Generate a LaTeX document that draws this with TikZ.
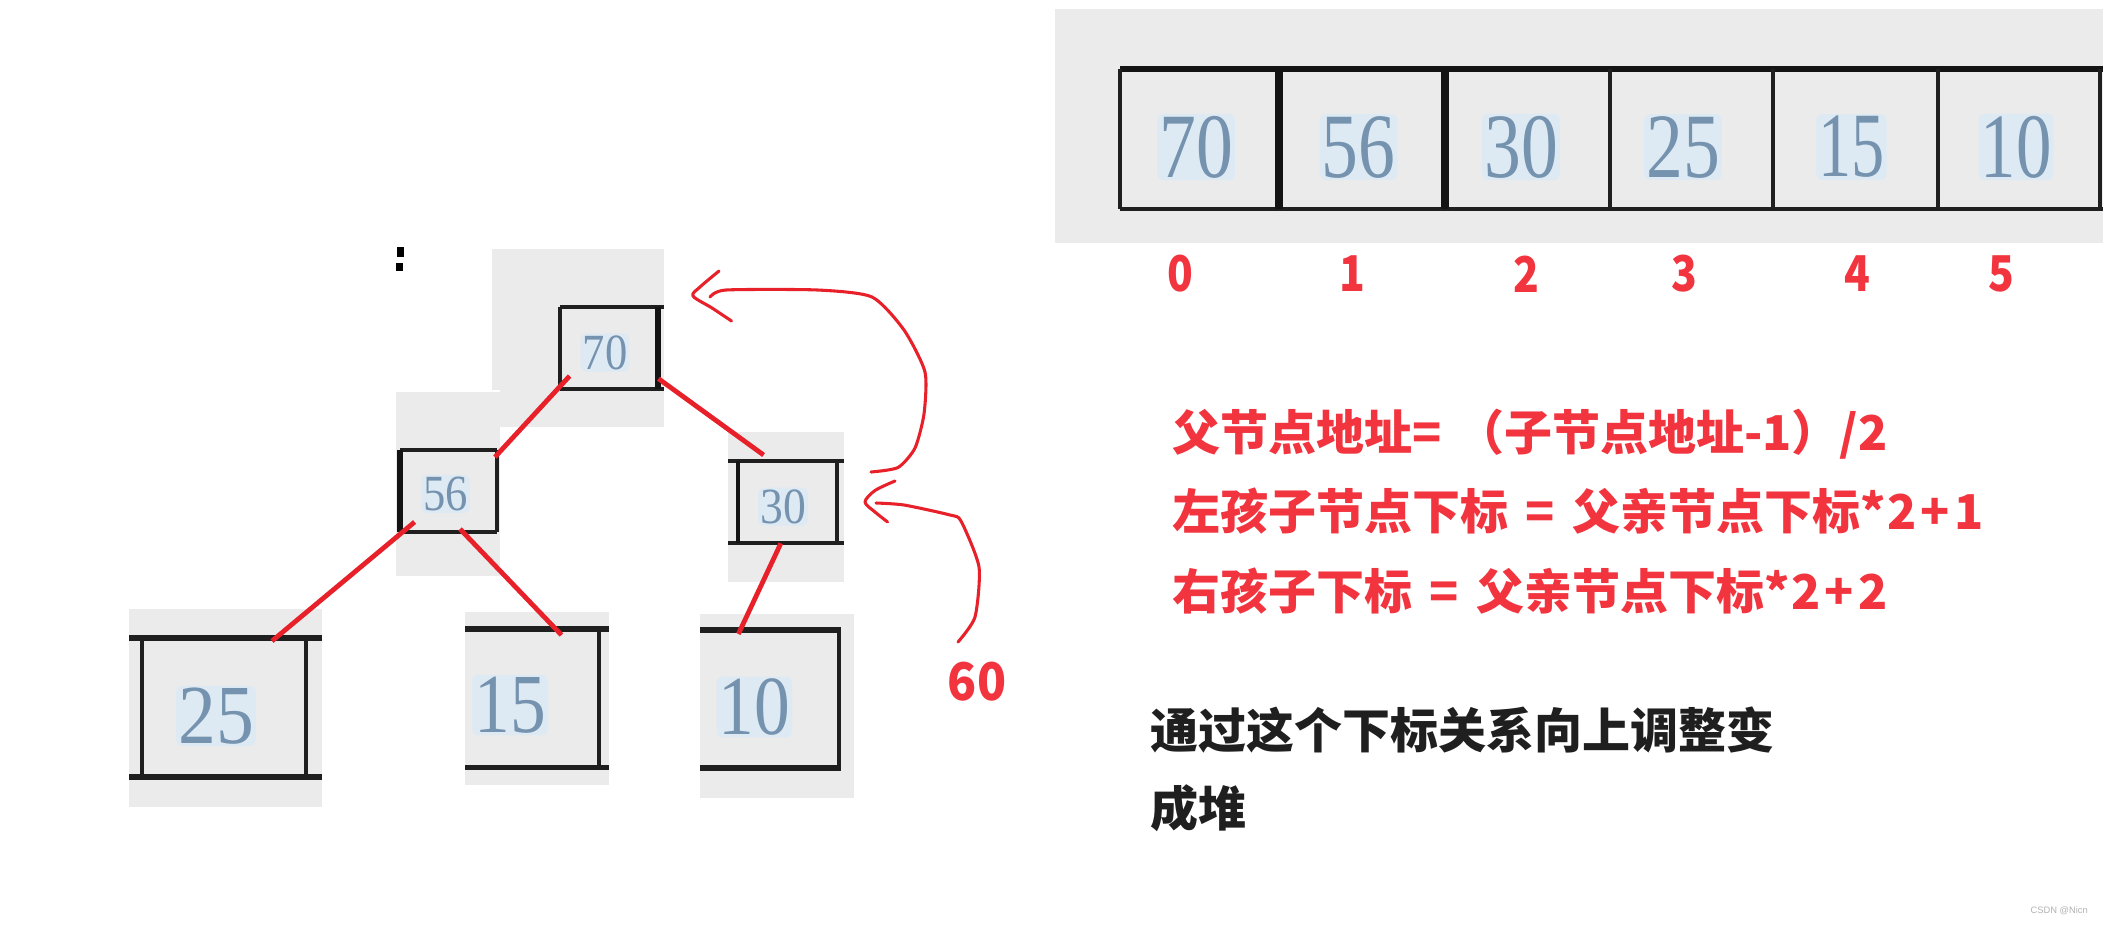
\documentclass[tikz,border=0pt]{standalone}
\usepackage{fontspec}
\newfontfamily\cjk{Noto Sans CJK SC}
\newfontfamily\numf{Liberation Serif}
\newfontfamily\wmf{Liberation Sans}
\definecolor{panel}{HTML}{EBEBEB}
\definecolor{halo}{HTML}{DDEAF4}
\definecolor{digitc}{HTML}{7592AE}
\definecolor{inkred}{HTML}{E8202A}
\definecolor{textred}{HTML}{F2343F}
\definecolor{textblack}{HTML}{1F1F1F}
\tikzset{
  panelfill/.style={fill=panel,draw=none},
  digitnode/.style={inner sep=1.5pt,fill=halo,text=digitc,rounded corners=4pt},
  dsmall/.style={digitnode,font=\numf\fontsize{38pt}{38pt}\selectfont},
  dmid/.style={digitnode,font=\numf\fontsize{63pt}{63pt}\selectfont},
  dbig/.style={digitnode,font=\numf\fontsize{69pt}{69pt}\selectfont},
  boxline/.style={draw=black!88,line width=3pt},
  thickline/.style={draw=black!92,line width=4.5pt},
  edgeline/.style={draw=inkred,line width=3.6pt},
  handline/.style={draw=inkred,line width=2.3pt,line cap=round,line join=round},
  idx/.style={inner sep=0pt,text=textred,font=\cjk\bfseries\fontsize{37pt}{37pt}\selectfont},
  formula/.style={inner sep=0pt,anchor=base west,text=textred,font=\cjk\bfseries\fontsize{36pt}{36pt}\selectfont},
  note/.style={inner sep=0pt,anchor=base west,text=textblack,font=\cjk\bfseries\fontsize{36pt}{36pt}\selectfont},
}
\begin{document}
\begin{tikzpicture}[x=0.75pt,y=-0.75pt]
\useasboundingbox (0,0) rectangle (2103,925);
\fill[white] (0,0) rectangle (2103,925);
% array panel
\fill[panelfill] (1055,9) rectangle (2103,243);
\draw[thickline] (1120,69) -- (2103,69);
\draw[boxline,line width=3.6pt] (1120,209) -- (2103,209);
\draw[boxline,line width=2.4pt] (1120,69) -- (1120,209);
\draw[thickline,line width=6pt] (1279,69) -- (1279,209);
\draw[thickline,line width=6pt] (1445,69) -- (1445,209);
\draw[boxline] (1609.5,69) -- (1609.5,209);
\draw[boxline,line width=2.6pt] (1773,69) -- (1773,209);
\draw[boxline,line width=2.6pt] (1938,69) -- (1938,209);
\draw[boxline,line width=2.4pt] (2100,69) -- (2100,209);
\node[dbig] (a0) at (1196,147) {\scalebox{.8}[1]{70}};
\node[dbig] (a1) at (1358.6,147) {\scalebox{.8}[1]{56}};
\node[dbig] (a2) at (1521,147) {\scalebox{.8}[1]{30}};
\node[dbig] (a3) at (1683,147) {\scalebox{.8}[1]{25}};
\node[dbig] (a4) at (1851.5,147) {\scalebox{.72}[1]{15}};
\node[dbig] (a5) at (2016,147) {\scalebox{.77}[1]{10}};
% indices
\node[idx] (i0) at (1180,274) {\scalebox{.86}[1]{0}};
\node[idx] (i1) at (1352,274) {\scalebox{.86}[1]{1}};
\node[idx] (i2) at (1526,274) {\scalebox{.86}[1]{2}};
\node[idx] (i3) at (1684,274) {\scalebox{.86}[1]{3}};
\node[idx] (i4) at (1857,274) {\scalebox{.86}[1]{4}};
\node[idx] (i5) at (2001,274) {\scalebox{.86}[1]{5}};
% tree panels
\fill[panelfill] (492,249) rectangle (664,390);
\fill[panelfill] (500,390) rectangle (664,427);
\fill[panelfill] (396,392) rectangle (500,576);
\fill[panelfill] (728,432) rectangle (844,582);
\fill[panelfill] (129,608.5) rectangle (322,807);
\fill[panelfill] (465,612) rectangle (609,785);
\fill[panelfill] (700,613.5) rectangle (854,797.5);
% speck
\fill[black] (397,247) rectangle (404,257);
\fill[black] (396,263) rectangle (403,271);
% node 70
\draw[boxline] (560,307) -- (664,307);
\draw[boxline] (560,389) -- (664,389);
\draw[boxline,line width=2.4pt] (560,307) -- (560,389);
\draw[thickline] (658,307) -- (658,389);
% node 56
\draw[boxline] (400,449.5) -- (497,449.5);
\draw[boxline] (400,531.5) -- (497,531.5);
\draw[thickline] (400,449.5) -- (400,531.5);
\draw[boxline,line width=2.4pt] (497,449.5) -- (497,531.5);
% node 30
\draw[boxline] (728,461) -- (844,461);
\draw[boxline] (728,543) -- (844,543);
\draw[thickline,line width=3.6pt] (738,461) -- (738,543);
\draw[boxline,line width=2.4pt] (837,461) -- (837,543);
% node 25
\draw[boxline,line width=4.5pt] (129,638) -- (322,638);
\draw[boxline,line width=4pt] (129,777) -- (322,777);
\draw[boxline,line width=3.6pt] (142,638) -- (142,777);
\draw[boxline,line width=3.2pt] (306,638) -- (306,777);
% node 15
\draw[boxline,line width=4.5pt] (465,628.5) -- (609,628.5);
\draw[boxline,line width=4pt] (465,767.5) -- (609,767.5);
\draw[boxline,line width=3.2pt] (599,628.5) -- (599,767.5);
% node 10
\draw[boxline,line width=4.5pt] (700,630) -- (841,630);
\draw[boxline,line width=4pt] (700,768) -- (841,768);
\draw[boxline,line width=3.6pt] (839,630) -- (839,768);
% tree digits
\node[dsmall] (n70) at (605,352.6) {\scalebox{.88}[1]{70}};
\node[dsmall] (n56) at (445.6,494) {\scalebox{.88}[1]{56}};
\node[dsmall] (n30) at (783,506.6) {\scalebox{.9}[1]{30}};
\node[dmid] (n25) at (216,716) {\scalebox{.9}[1]{25}};
\node[dmid] (n15) at (510,705) {\scalebox{.85}[1]{15}};
\node[dmid] (n10) at (754.4,707) {\scalebox{.85}[1]{10}};
% tree edges
\draw[edgeline] ([shift={(-35.4,23.4)}]n70.center) -- ([shift={(49.4,-37)}]n56.center);
\draw[edgeline] ([shift={(53.5,26.1)}]n70.center) -- ([shift={(-19.4,-51.6)}]n30.center);
\draw[edgeline] ([shift={(-31,28)}]n56.center) -- ([shift={(56,-75)}]n25.center);
\draw[edgeline] ([shift={(14.4,35)}]n56.center) -- ([shift={(51.5,-70)}]n15.center);
\draw[edgeline] ([shift={(-2.2,36.8)}]n30.center) -- ([shift={(-16,-73)}]n10.center);
% hand arrows
\coordinate (arrowAstart) at (871,472);
\coordinate (arrowAend) at (710,297);
\coordinate (arrowAtip) at (693,296);
\coordinate (arrowBstart) at (958,642);
\coordinate (arrowBend) at (876,503);
\coordinate (arrowBtip) at (865,502);
\draw[handline] plot[smooth,tension=.4] coordinates {(arrowAstart) (898,467.5) (915,448) (924,414) (925,372) (904,330) (872,297) (817.6,290) (726,290) (arrowAend)};
\draw[handline] plot[smooth,tension=.5] coordinates {(719,271) (700,287) (arrowAtip) (712,308) (731.5,321)};
\draw[handline] plot[smooth,tension=.4] coordinates {(arrowBstart) (975,617) (979,567) (961,521) (950,515) (904,505) (arrowBend)};
\draw[handline] plot[smooth,tension=.5] coordinates {(895,481) (875,490.5) (arrowBtip) (875,512) (887.6,522)};
\node[idx,font=\cjk\bfseries\fontsize{39pt}{39pt}\selectfont] (sixty) at (977,682) {\scalebox{.92}[1]{60}};
% formulas
\node[formula] (f1) at (1172,450) {父节点地址=\hspace{11pt}（子节点地址-1）/2};
\node[formula] (f2) at (1172,529) {左孩子节点下标\hspace{5pt} = \hspace{5pt}父亲节点下标*\hspace{1pt}2\hspace{3pt}+\hspace{3pt}1};
\node[formula] (f3) at (1172,609) {右孩子下标\hspace{5pt} = \hspace{5pt}父亲节点下标*\hspace{1pt}2\hspace{3pt}+\hspace{3pt}2};
\node[note] (n1) at (1150,748) {通过这个下标关系向上调整变};
\node[note] (n2) at (1150,826) {成堆};
\node[inner sep=0pt,anchor=east,text=black!30,font=\wmf\fontsize{7pt}{7pt}\selectfont] (wm) at (2088,911) {CSDN @Nicn};
\end{tikzpicture}
\end{document}
